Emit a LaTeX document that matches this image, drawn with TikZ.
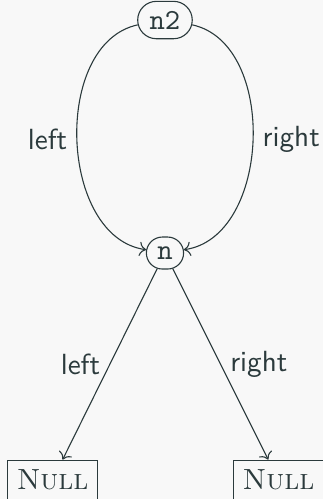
\documentclass[tikz,border=0pt]{standalone}
\usepackage{tikz}
\usetikzlibrary{arrows.meta, positioning, shapes.misc}
\definecolor{tink}{HTML}{2B3A3C}
\definecolor{tback}{HTML}{F8F8F8}
\tikzset{
  ptrbox/.style={draw=tink, text=tink, rounded rectangle, font=\fontsize{10.6}{12}\ttfamily,
                 inner sep=3.5pt},
  nullbox/.style={draw=tink, text=tink, rectangle, inner sep=3.5pt,
                  font=\fontsize{10.6}{12}\selectfont},
  arr/.style={->, tink},
  lbl/.style={text=tink, font=\fontsize{10.6}{12}\sffamily},
}
\begin{document}
\begin{tikzpicture}[y=-1cm]
    \fill[tback] (0,0) rectangle (4.127,6.376);
    \useasboundingbox (0,0) rectangle (4.127,6.376);
    \node[ptrbox] (n2) at (2.108, 0.256) {n2};
    \node[ptrbox] (n) at (2.108, 3.233) {n};
    \node[nullbox] (nl) at (0.671, 6.133) {\textsc{Null}};
    \node[nullbox] (nr) at (3.558, 6.133) {\textsc{Null}};

    \draw[arr] (n2) to[bend right=80] node[lbl, left] {left} (n);
    \draw[arr] (n2) to[bend left=80] node[lbl, right] {right} (n);
    \draw[arr] (n) -- node[lbl, left] {left} (nl);
    \draw[arr] (n) -- node[lbl, right] {right} (nr);
  \end{tikzpicture}
\end{document}
